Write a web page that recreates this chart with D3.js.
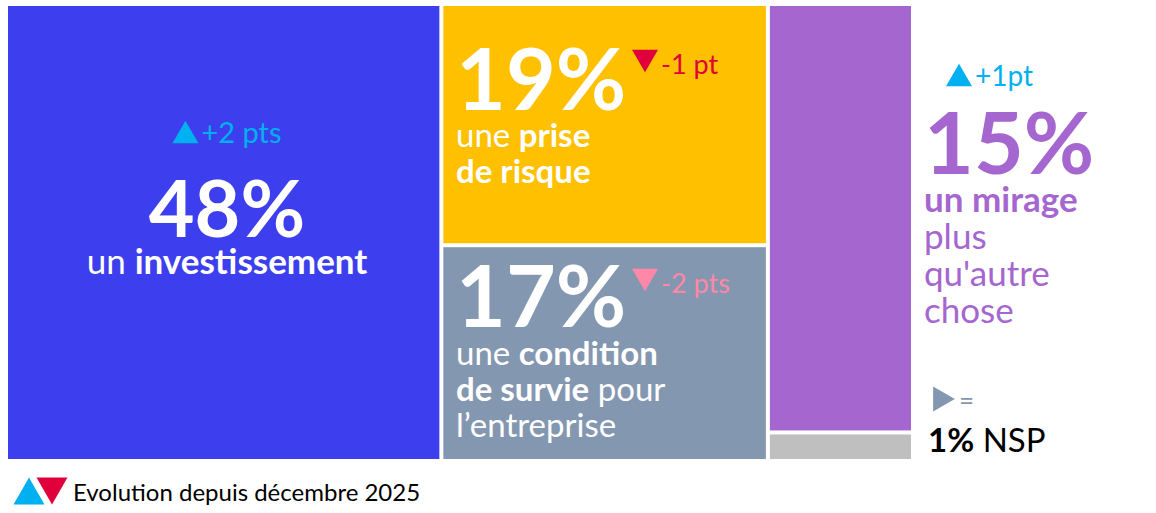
<!DOCTYPE html>
<html>
<head>
<meta charset="utf-8">
<script src="https://cdn.jsdelivr.net/npm/d3@7"></script>
<style>
  body { margin: 0; background: #fff; }
  svg { display: block; font-family: Lato, "Open Sans", sans-serif; }
</style>
</head>
<body>
<svg id="viz"></svg>
<script>
// data
const categories = ["investissement", "prise de risque", "condition de survie", "mirage", "NSP"];
const values = [48, 19, 17, 15, 1];
const columns = [0, 1, 1, 2, 2];
const evolutions = ["+2 pts", "-1 pt", "-2 pts", "+1pt", "="];
const trends = ["up", "down", "down", "up", "flat"];
const labelLines = [
    ["un <b>investissement</b>"],
    ["une <b>prise</b>", "<b>de risque</b>"],
    ["une <b>condition</b>", "<b>de survie</b> pour", "l’entreprise"],
    ["<b>un mirage</b>", "plus", "qu'autre", "chose"],
    ["NSP"]
];
const legendText = "Evolution depuis décembre 2025";

const width = 1156, height = 513, gap = 4;
const fills = ["#3D3FEE", "#FFC000", "#8497B0", "#A566D0", "#BFBFBF"];
const arrowColors = ["#00B0F0", "#E0003C", "#FF87A7", "#00B0F0", "#8497B0"];

const svg = d3.select('#viz')
    .attr('width', width)
    .attr('height', height);

// column totals and offsets
const colTotals = d3.rollup(values.map((v, i) => ({v, c: columns[i]})), g => d3.sum(g, d => d.v), d => d.c);
const colIds = Array.from(colTotals.keys()).sort();
let acc = 0;
const colStart = new Map();
colIds.forEach(c => { colStart.set(c, acc); acc += colTotals.get(c); });

const xScale = d3.scaleLinear()
    .domain([0, d3.sum(values)])
    .range([8, 915]);

const rowOffset = new Map();
const blocks = values.map((v, i) => {
    const c = columns[i];
    const yScale = d3.scaleLinear().domain([0, colTotals.get(c)]).range([6, 463]);
    const r0 = rowOffset.get(c) || 0;
    rowOffset.set(c, r0 + v);
    return {
        i, v, cat: categories[i],
        x0: xScale(colStart.get(c)),
        x1: xScale(colStart.get(c) + colTotals.get(c)) - gap,
        y0: yScale(r0),
        y1: yScale(r0 + v) - gap
    };
});

svg.selectAll('rect.block').data(blocks)
    .enter()
    .append('rect')
    .attr('class', 'block')
    .attr('x', d => d.x0)
    .attr('y', d => d.y0)
    .attr('width', d => d.x1 - d.x0)
    .attr('height', d => d.y1 - d.y0)
    .attr('fill', (d, i) => fills[i]);

// rich text helper: "<b>" marks bold parts; first tspan of a line gets x/y
function richLine(text, str, x, y, size) {
    str.split(/(<b>.*?<\/b>)/).filter(s => s.length).forEach((part, k) => {
        const bold = part.startsWith('<b>');
        const t = text.append('tspan')
            .attr('font-size', size)
            .attr('font-weight', bold ? 700 : 400)
            .text(part.replace(/<\/?b>/g, ''));
        if (k === 0) t.attr('x', x).attr('y', y);
    });
}

function triangle(g, dir, cx, cy, w, color) {
    const h = w * 0.87;
    let pts;
    if (dir === 'up') pts = [[cx - w / 2, cy + h / 2], [cx + w / 2, cy + h / 2], [cx, cy - h / 2]];
    else if (dir === 'down') pts = [[cx - w / 2, cy - h / 2], [cx + w / 2, cy - h / 2], [cx, cy + h / 2]];
    else pts = [[cx - h / 2, cy - w / 2], [cx - h / 2, cy + w / 2], [cx + h / 2, cy]];
    g.append('path')
        .attr('d', d3.line()(pts) + 'Z')
        .attr('fill', color);
}

// label layout per block
const layouts = [
    {anchor: 'middle', dx: 227, arrowY: 132, evoY: 143, evoSize: 29, pctY: 237, pctSize: 79, lineY: 274, lineSize: 35, lh: 36, color: '#fff'},
    {anchor: 'start', dx: 456, arrowX: 645, arrowY: 61, evoY: 74, evoSize: 27, pctY: 110, pctSize: 86, lineY: 147, lineSize: 33, lh: 36, color: '#fff'},
    {anchor: 'start', dx: 456, arrowX: 645, arrowY: 280, evoY: 293, evoSize: 27, pctY: 327, pctSize: 86, lineY: 365, lineSize: 33, lh: 36, color: '#fff'},
    {anchor: 'start', dx: 924, arrowX: 959, arrowY: 75, evoY: 86, evoSize: 28, pctY: 174, pctSize: 86, lineY: 212, lineSize: 35, lh: 37, color: '#A566D0'}
];

layouts.forEach((L, i) => {
    const g = svg.append('g');
    const evoColor = arrowColors[i];
    if (L.anchor === 'middle') {
        const evo = g.append('text')
            .attr('x', 0).attr('y', L.evoY)
            .attr('font-size', L.evoSize)
            .attr('fill', evoColor)
            .text(evolutions[i]);
        const tw = evo.node().getComputedTextLength();
        const total = 26 + 3 + tw;
        const left = L.dx - total / 2;
        triangle(g, trends[i], left + 13, L.arrowY, 26, evoColor);
        evo.attr('x', left + 29);
    } else {
        triangle(g, trends[i], L.arrowX, L.arrowY, 26, evoColor);
        g.append('text')
            .attr('x', L.arrowX + 16).attr('y', L.evoY)
            .attr('font-size', L.evoSize)
            .attr('fill', evoColor)
            .text(evolutions[i]);
    }
    // percent + label lines in one text element
    const t = g.append('text')
        .attr('text-anchor', L.anchor)
        .attr('fill', L.color);
    richLine(t, '<b>' + values[i] + '%</b>', L.dx, L.pctY, L.pctSize);
    labelLines[i].forEach((line, k) => {
        richLine(t, line, L.dx, L.lineY + k * L.lh, L.lineSize);
    });
});

// NSP block, label outside
const nsp = svg.append('g');
triangle(nsp, trends[4], 944, 399, 25, arrowColors[4]);
nsp.append('text')
    .attr('x', 959).attr('y', 410)
    .attr('font-size', 26)
    .attr('fill', arrowColors[4])
    .text(evolutions[4]);
const nspText = nsp.append('text')
    .attr('fill', '#000');
richLine(nspText, '<b>' + values[4] + '%</b> ' + labelLines[4][0], 928, 452, 33);

// legend
const legend = svg.append('g');
triangle(legend, 'up', 29, 491, 31, '#00B0F0');
triangle(legend, 'down', 52, 491, 31, '#E0003C');
legend.append('text')
    .attr('x', 73).attr('y', 501)
    .attr('font-size', 24)
    .attr('fill', '#000')
    .text(legendText);
</script>
</body>
</html>
